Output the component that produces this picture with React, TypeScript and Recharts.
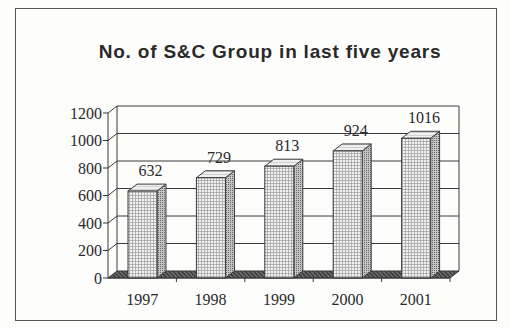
import { BarChart, Bar, XAxis, YAxis, CartesianGrid, LabelList } from "recharts";

const years = ["1997", "1998", "1999", "2000", "2001"];
const groupCounts = [632, 729, 813, 924, 1016];
const yTicks = [0, 200, 400, 600, 800, 1000, 1200];

const data = years.map((year, i) => ({ year, count: groupCounts[i] }));

// 3d depth offset
const DX = 9;
const DY = 7;
const INK = "#3a3a3a";

function GridLine3D(props: any) {
  const { x1, x2, y1, x, y, width, height, key } = props;
  const bottom = y + height;
  const isFloor = Math.abs(y1 - bottom) < 1;
  if (isFloor) {
    const band = width / years.length;
    return (
      <g key={key}>
        <path
          d={`M${x},${bottom} L${x + DX},${bottom - DY} L${x + width + DX},${bottom - DY} L${x + width},${bottom} Z`}
          fill="url(#floorHatch)"
          stroke={INK}
          strokeWidth={1}
        />
        <line x1={x + DX} y1={y - DY} x2={x + DX} y2={bottom - DY} stroke={INK} />
        <line x1={x + width + DX} y1={y - DY} x2={x + width + DX} y2={bottom - DY} stroke={INK} />
        {years.map((_, i) => (
          <line
            key={i}
            x1={x + band * (i + 1)}
            y1={bottom}
            x2={x + band * (i + 1)}
            y2={bottom + 4}
            stroke={INK}
          />
        ))}
      </g>
    );
  }
  return (
    <g key={key}>
      <line x1={x1} y1={y1} x2={x1 + DX} y2={y1 - DY} stroke={INK} />
      <line x1={x1 + DX} y1={y1 - DY} x2={x2 + DX} y2={y1 - DY} stroke={INK} />
    </g>
  );
}

function Bar3D(props: any) {
  const { x, y, width, height } = props;
  if (!height) return null;
  return (
    <g>
      <path
        d={`M${x + width},${y} l${DX},${-DY} v${height} l${-DX},${DY} Z`}
        fill="url(#sideHatch)"
        stroke={INK}
        strokeWidth={1}
      />
      <path
        d={`M${x},${y} l${DX},${-DY} h${width} l${-DX},${DY} Z`}
        fill="url(#topHatch)"
        stroke={INK}
        strokeWidth={1}
      />
      <rect x={x} y={y} width={width} height={height} fill="url(#frontHatch)" stroke={INK} strokeWidth={1} />
    </g>
  );
}

function ValueLabel(props: any) {
  const { x, y, width, value } = props;
  return (
    <text
      x={x + width / 2 + 8}
      y={y - 15}
      textAnchor="middle"
      fontFamily="'Liberation Serif', serif"
      fontSize={16}
      fill="#2a2a2a"
    >
      {value}
    </text>
  );
}

export default function App() {
  return (
    <div style={{ position: "absolute", left: 0, top: 0, width: 510, height: 328, background: "#fdfdfc", overflow: "hidden" }}>
      <div
        style={{
          position: "absolute",
          left: 15,
          top: 8,
          width: 482,
          height: 313,
          border: "1px solid #555",
          boxSizing: "border-box",
        }}
      />
      <div
        style={{
          position: "absolute",
          left: 0,
          width: 540,
          top: 41,
          textAlign: "center",
          fontFamily: "'Liberation Sans', Arial, sans-serif",
          fontWeight: "bold",
          fontSize: 19,
          letterSpacing: 0.8,
          color: "#2a2a2a",
        }}
      >
        No. of S&amp;C Group in last five years
      </div>
      <div style={{ position: "absolute", left: 0, top: 0 }}>
        <BarChart width={510} height={328} data={data} margin={{ top: 113, right: 60, left: 0, bottom: 0 }}>
          <defs>
            <pattern id="frontHatch" width={3} height={3} patternUnits="userSpaceOnUse">
              <rect width={3} height={3} fill="#f1f1f1" />
              <path d="M0,0.5 H3 M0.5,0 V3" stroke="#9c9c9c" strokeWidth={0.7} />
            </pattern>
            <pattern id="sideHatch" width={2} height={2} patternUnits="userSpaceOnUse">
              <rect width={2} height={2} fill="#c4c4c4" />
              <rect width={1} height={1} fill="#6a6a6a" />
            </pattern>
            <pattern id="topHatch" width={3} height={3} patternUnits="userSpaceOnUse">
              <rect width={3} height={3} fill="#f0f0f0" />
              <path d="M0,0.5 H3" stroke="#bcbcbc" strokeWidth={0.6} />
            </pattern>
            <pattern id="floorHatch" width={3} height={3} patternUnits="userSpaceOnUse" patternTransform="rotate(45)">
              <rect width={3} height={3} fill="#6e6e6e" />
              <path d="M0,0.5 H3" stroke="#2a2a2a" strokeWidth={1.2} />
            </pattern>
          </defs>
          <CartesianGrid vertical={false} horizontal={GridLine3D} />
          <XAxis
            dataKey="year"
            height={50}
            axisLine={{ stroke: INK }}
            tickLine={false}
            tickMargin={10}
            tick={{ fontFamily: "'Liberation Serif', serif", fontSize: 16, fill: "#2a2a2a" }}
          />
          <YAxis
            width={108}
            domain={[0, 1200]}
            ticks={yTicks}
            interval={0}
            axisLine={{ stroke: INK }}
            tickLine={{ stroke: INK }}
            tickSize={5}
            tickMargin={1}
            tick={{ fontFamily: "'Liberation Serif', serif", fontSize: 16, fill: "#2a2a2a" }}
          />
          <Bar dataKey="count" barSize={29} shape={Bar3D} isAnimationActive={false}>
            <LabelList dataKey="count" content={ValueLabel} />
          </Bar>
        </BarChart>
      </div>
    </div>
  );
}
